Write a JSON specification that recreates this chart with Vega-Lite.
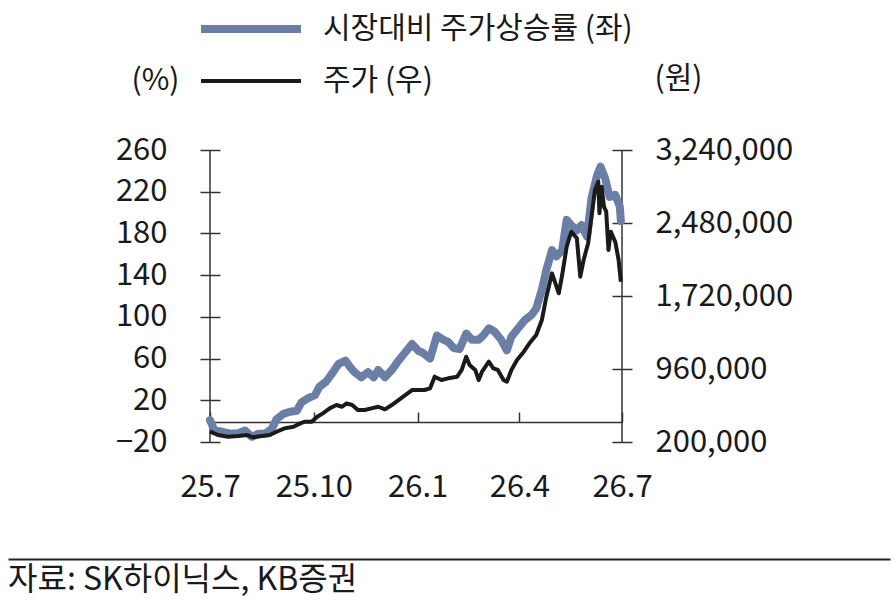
{
  "$schema": "https://vega.github.io/schema/vega-lite/v6.json",
  "width": 412,
  "height": 292,
  "autosize": {"type": "none"},
  "padding": {"left": 210, "top": 150, "right": 273, "bottom": 170},
  "background": "white",
  "config": {
    "view": {"stroke": null},
    "font": "Noto Sans CJK KR",
    "axis": {"labelFont": "Noto Sans CJK KR", "titleFont": "Noto Sans CJK KR", "labelColor": "#1a1a1a", "titleColor": "#1a1a1a", "grid": false, "domainColor": "#333333", "tickColor": "#333333"}
  },
  "datasets": {
    "edges": [{"date": "2025-07-01"}, {"date": "2026-07-01"}],
    "source": [{"p": 0, "t": "자료: SK하이닉스, KB증권"}],
    "rel": [
      {"date": "2025-07-01", "v": 1}, {"date": "2025-07-05", "v": -9}, {"date": "2025-07-11", "v": -10}, {"date": "2025-07-19", "v": -12},
      {"date": "2025-07-26", "v": -11.5}, {"date": "2025-08-01", "v": -9}, {"date": "2025-08-07", "v": -15}, {"date": "2025-08-13", "v": -12},
      {"date": "2025-08-19", "v": -12}, {"date": "2025-08-25", "v": -7}, {"date": "2025-08-29", "v": 2}, {"date": "2025-09-04", "v": 7},
      {"date": "2025-09-10", "v": 9}, {"date": "2025-09-16", "v": 10}, {"date": "2025-09-20", "v": 18}, {"date": "2025-09-26", "v": 22},
      {"date": "2025-10-02", "v": 25}, {"date": "2025-10-06", "v": 33}, {"date": "2025-10-12", "v": 38}, {"date": "2025-10-18", "v": 47},
      {"date": "2025-10-23", "v": 55}, {"date": "2025-10-29", "v": 58}, {"date": "2025-11-02", "v": 52}, {"date": "2025-11-06", "v": 47},
      {"date": "2025-11-12", "v": 42}, {"date": "2025-11-18", "v": 47}, {"date": "2025-11-23", "v": 42}, {"date": "2025-11-27", "v": 49},
      {"date": "2025-12-03", "v": 42}, {"date": "2025-12-09", "v": 49}, {"date": "2025-12-15", "v": 58}, {"date": "2025-12-21", "v": 66},
      {"date": "2025-12-27", "v": 74}, {"date": "2026-01-02", "v": 67}, {"date": "2026-01-05", "v": 66}, {"date": "2026-01-12", "v": 60},
      {"date": "2026-01-18", "v": 82}, {"date": "2026-01-24", "v": 78}, {"date": "2026-01-28", "v": 76}, {"date": "2026-02-02", "v": 70},
      {"date": "2026-02-07", "v": 69}, {"date": "2026-02-13", "v": 84}, {"date": "2026-02-18", "v": 78}, {"date": "2026-02-24", "v": 78},
      {"date": "2026-02-28", "v": 82}, {"date": "2026-03-05", "v": 89}, {"date": "2026-03-10", "v": 86}, {"date": "2026-03-16", "v": 78},
      {"date": "2026-03-21", "v": 68}, {"date": "2026-03-25", "v": 81}, {"date": "2026-03-31", "v": 89}, {"date": "2026-04-06", "v": 97},
      {"date": "2026-04-12", "v": 102}, {"date": "2026-04-16", "v": 108}, {"date": "2026-04-21", "v": 126}, {"date": "2026-04-25", "v": 145},
      {"date": "2026-04-30", "v": 164}, {"date": "2026-05-04", "v": 158}, {"date": "2026-05-09", "v": 164}, {"date": "2026-05-13", "v": 193},
      {"date": "2026-05-17", "v": 188}, {"date": "2026-05-22", "v": 183}, {"date": "2026-05-26", "v": 188}, {"date": "2026-05-31", "v": 177},
      {"date": "2026-06-04", "v": 214}, {"date": "2026-06-09", "v": 236}, {"date": "2026-06-12", "v": 244}, {"date": "2026-06-16", "v": 233},
      {"date": "2026-06-20", "v": 215}, {"date": "2026-06-25", "v": 217}, {"date": "2026-06-29", "v": 206}, {"date": "2026-06-30", "v": 192}
    ],
    "price": [
      {"date": "2025-07-01", "v": 307000}, {"date": "2025-07-08", "v": 273000}, {"date": "2025-07-17", "v": 255000}, {"date": "2025-07-26", "v": 262000},
      {"date": "2025-08-03", "v": 273000}, {"date": "2025-08-08", "v": 249000}, {"date": "2025-08-16", "v": 262000}, {"date": "2025-08-23", "v": 273000},
      {"date": "2025-08-29", "v": 307000}, {"date": "2025-09-05", "v": 342000}, {"date": "2025-09-13", "v": 359000}, {"date": "2025-09-19", "v": 394000},
      {"date": "2025-09-23", "v": 411000}, {"date": "2025-09-29", "v": 411000}, {"date": "2025-10-04", "v": 463000}, {"date": "2025-10-09", "v": 498000},
      {"date": "2025-10-15", "v": 550000}, {"date": "2025-10-21", "v": 585000}, {"date": "2025-10-26", "v": 567000}, {"date": "2025-10-30", "v": 602000},
      {"date": "2025-11-04", "v": 585000}, {"date": "2025-11-09", "v": 533000}, {"date": "2025-11-15", "v": 533000}, {"date": "2025-11-21", "v": 550000},
      {"date": "2025-11-27", "v": 567000}, {"date": "2025-12-03", "v": 540000}, {"date": "2025-12-09", "v": 585000}, {"date": "2025-12-15", "v": 637000},
      {"date": "2025-12-21", "v": 689000}, {"date": "2025-12-27", "v": 741000}, {"date": "2026-01-02", "v": 741000}, {"date": "2026-01-07", "v": 741000},
      {"date": "2026-01-12", "v": 759000}, {"date": "2026-01-16", "v": 880000}, {"date": "2026-01-22", "v": 845000}, {"date": "2026-01-28", "v": 863000},
      {"date": "2026-02-05", "v": 880000}, {"date": "2026-02-09", "v": 950000}, {"date": "2026-02-13", "v": 1088000}, {"date": "2026-02-16", "v": 1002000},
      {"date": "2026-02-21", "v": 950000}, {"date": "2026-02-24", "v": 845000}, {"date": "2026-02-27", "v": 932000}, {"date": "2026-03-05", "v": 1036000},
      {"date": "2026-03-09", "v": 967000}, {"date": "2026-03-13", "v": 950000}, {"date": "2026-03-18", "v": 845000}, {"date": "2026-03-21", "v": 828000},
      {"date": "2026-03-25", "v": 950000}, {"date": "2026-03-30", "v": 1054000}, {"date": "2026-04-05", "v": 1140000}, {"date": "2026-04-10", "v": 1227000},
      {"date": "2026-04-16", "v": 1314000}, {"date": "2026-04-21", "v": 1470000}, {"date": "2026-04-25", "v": 1713000}, {"date": "2026-04-30", "v": 1956000},
      {"date": "2026-05-03", "v": 1852000}, {"date": "2026-05-06", "v": 1748000}, {"date": "2026-05-09", "v": 1939000}, {"date": "2026-05-13", "v": 2233000},
      {"date": "2026-05-17", "v": 2390000}, {"date": "2026-05-22", "v": 2321000}, {"date": "2026-05-25", "v": 1921000}, {"date": "2026-05-28", "v": 2095000},
      {"date": "2026-06-01", "v": 2269000}, {"date": "2026-06-04", "v": 2546000}, {"date": "2026-06-07", "v": 2824000}, {"date": "2026-06-10", "v": 2910000},
      {"date": "2026-06-11", "v": 2581000}, {"date": "2026-06-13", "v": 2858000}, {"date": "2026-06-15", "v": 2650000}, {"date": "2026-06-17", "v": 2598000},
      {"date": "2026-06-19", "v": 2199000}, {"date": "2026-06-21", "v": 2390000}, {"date": "2026-06-25", "v": 2285000}, {"date": "2026-06-28", "v": 2095000},
      {"date": "2026-06-30", "v": 1869000}
    ]
  },
  "layer": [
    {
      "data": {"name": "edges"},
      "mark": {"type": "rule", "color": "#333333", "strokeWidth": 1.5},
      "encoding": {
        "x": {"field": "date", "type": "temporal",
          "scale": {"type": "utc", "domain": [{"year": 2025, "month": 7, "date": 1, "utc": true}, {"year": 2026, "month": 7, "date": 1, "utc": true}]},
          "axis": null}
      }
    },
    {
      "data": {"name": "rel"},
      "mark": {"type": "line", "strokeCap": "round", "strokeJoin": "round"},
      "encoding": {
        "x": {
          "field": "date", "type": "temporal",
          "scale": {"type": "utc", "domain": [{"year": 2025, "month": 7, "date": 1, "utc": true}, {"year": 2026, "month": 7, "date": 1, "utc": true}]},
          "axis": {
            "orient": "bottom", "offset": -20, "title": null,
            "values": [{"year": 2025, "month": 7, "date": 1, "utc": true}, {"year": 2025, "month": 10, "date": 1, "utc": true}, {"year": 2026, "month": 1, "date": 1, "utc": true}, {"year": 2026, "month": 4, "date": 1, "utc": true}, {"year": 2026, "month": 7, "date": 1, "utc": true}],
            "labelExpr": "utcFormat(datum.value, '%y') + '.' + (utcmonth(datum.value) + 1)",
            "domainWidth": 1.5, "tickSize": -10, "tickWidth": 1.5,
            "labelPadding": 60, "labelFontSize": 31, "labelFlush": false, "labelOverlap": false
          }
        },
        "y": {
          "field": "v", "type": "quantitative",
          "scale": {"domain": [-20, 260], "nice": false, "zero": false},
          "axis": {"orient": "left", "offset": -10, "domain": false, "tickSize": 20, "tickWidth": 1.5,
            "values": [-20, 20, 60, 100, 140, 180, 220, 260], "labelPadding": 33, "labelFontSize": 31,
            "title": "(%)", "titleAngle": 0, "titleX": -65, "titleY": -70, "titleAlign": "center", "titleBaseline": "middle", "titleFontSize": 30, "titleFontWeight": "normal"}
        },
        "color": {"datum": "시장대비 주가상승률 (좌)", "type": "nominal",
          "scale": {"domain": ["시장대비 주가상승률 (좌)", "주가 (우)"], "range": ["#6b7fa6", "#1a1a1a"]},
          "legend": {"title": null, "orient": "none", "legendX": -13, "legendY": -147, "direction": "vertical", "symbolType": "stroke", "symbolSize": 10000, "clipHeight": 52, "rowPadding": 0, "labelOffset": 18, "labelFontSize": 30, "labelFont": "Noto Sans CJK KR", "labelColor": "#1a1a1a", "labelLimit": 0, "padding": 0}},
        "strokeWidth": {"datum": "시장대비 주가상승률 (좌)", "type": "nominal",
          "scale": {"type": "ordinal", "domain": ["시장대비 주가상승률 (좌)", "주가 (우)"], "range": [8, 4]},
          "legend": {"title": null, "orient": "none", "legendX": -13, "legendY": -147, "direction": "vertical", "symbolType": "stroke", "symbolSize": 10000, "clipHeight": 52, "rowPadding": 0, "labelOffset": 18, "labelFontSize": 30, "labelFont": "Noto Sans CJK KR", "labelColor": "#1a1a1a", "labelLimit": 0, "padding": 0}}
      }
    },
    {
      "data": {"name": "price"},
      "mark": {"type": "line", "strokeJoin": "round"},
      "encoding": {
        "x": {"field": "date", "type": "temporal",
          "scale": {"type": "utc", "domain": [{"year": 2025, "month": 7, "date": 1, "utc": true}, {"year": 2026, "month": 7, "date": 1, "utc": true}]},
          "axis": null},
        "y": {
          "field": "v", "type": "quantitative",
          "scale": {"domain": [200000, 3240000], "nice": false, "zero": false},
          "axis": {"orient": "right", "offset": -10, "domain": false, "tickSize": 20, "tickWidth": 1.5,
            "values": [200000, 960000, 1720000, 2480000, 3240000], "labelExpr": "format(datum.value, ',.0f')", "labelPadding": 23, "labelFontSize": 31,
            "title": "(원)", "titleAngle": 0, "titleX": 66, "titleY": -72, "titleAlign": "center", "titleBaseline": "middle", "titleFontSize": 30, "titleFontWeight": "normal"}
        },
        "color": {"datum": "주가 (우)", "type": "nominal",
          "scale": {"domain": ["시장대비 주가상승률 (좌)", "주가 (우)"], "range": ["#6b7fa6", "#1a1a1a"]}},
        "strokeWidth": {"datum": "주가 (우)", "type": "nominal",
          "scale": {"type": "ordinal", "domain": ["시장대비 주가상승률 (좌)", "주가 (우)"], "range": [8, 4]}}
      }
    },
    {
      "data": {"name": "source"},
      "mark": {"type": "text", "align": "left", "baseline": "middle", "dy": 284, "fontSize": 32, "color": "#1a1a1a", "font": "Noto Sans CJK KR"},
      "encoding": {
        "x": {"field": "p", "type": "quantitative",
          "scale": {"domain": [0, 1], "range": [-202, 680]},
          "axis": {"orient": "bottom", "offset": 117, "domain": true, "domainColor": "#222222", "domainWidth": 2, "ticks": false, "labels": false, "grid": false, "title": null}},
        "text": {"field": "t"}
      }
    }
  ],
  "resolve": {"scale": {"x": "independent", "y": "independent"}}
}
